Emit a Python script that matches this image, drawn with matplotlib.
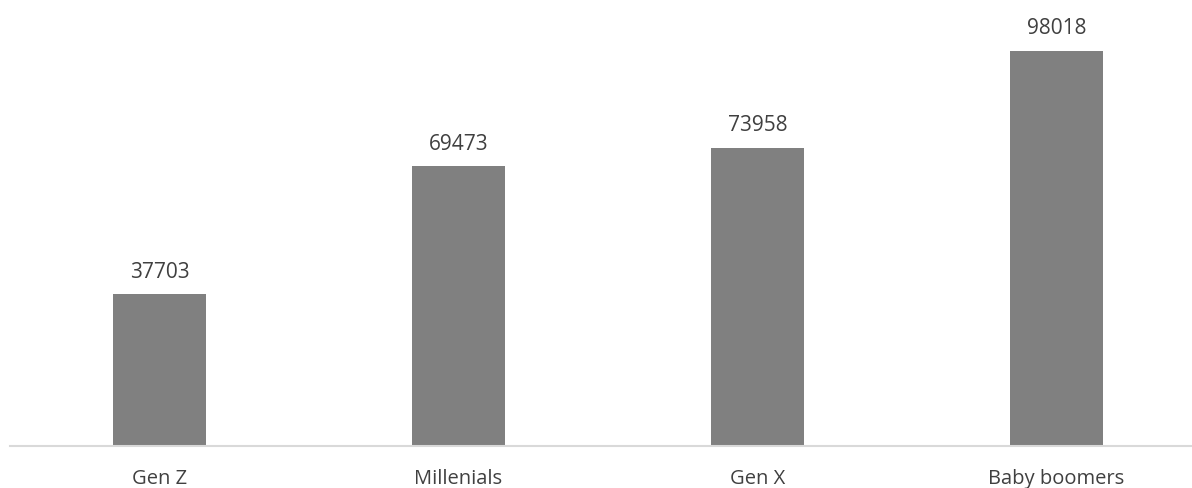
import matplotlib as mpl
from matplotlib import pyplot as plt

mpl.rcParams['font.family'] = ['Open Sans', 'DejaVu Sans']

# Данные
categories = ['Gen Z', 'Millenials', 'Gen X', 'Baby boomers']
values = [37703, 69473, 73958, 98018]

fig = plt.figure(figsize=(11.92, 4.89), dpi=100)
ax = fig.add_axes([10 / 1192, 42 / 489, 1196 / 1192, 447 / 489])

bars = ax.bar(range(len(categories)), values, width=0.31, color='#808080')
ax.bar_label(bars, labels=[str(v) for v in values], padding=9, fontsize=15, color='#404040')

ax.set_xlim(-0.5, len(categories) - 0.5)
ax.set_ylim(0, 98018 * 447 / 395)
ax.set_xticks(range(len(categories)))
ax.set_xticklabels(categories, fontsize=14.5, color='#404040')
ax.tick_params(axis='x', length=0, pad=15.5)
ax.set_yticks([])

for side in ['top', 'right', 'left']:
    ax.spines[side].set_visible(False)
ax.spines['bottom'].set_color('#d9d9d9')
ax.spines['bottom'].set_linewidth(1.5)

fig.savefig('out.png', dpi=100)
